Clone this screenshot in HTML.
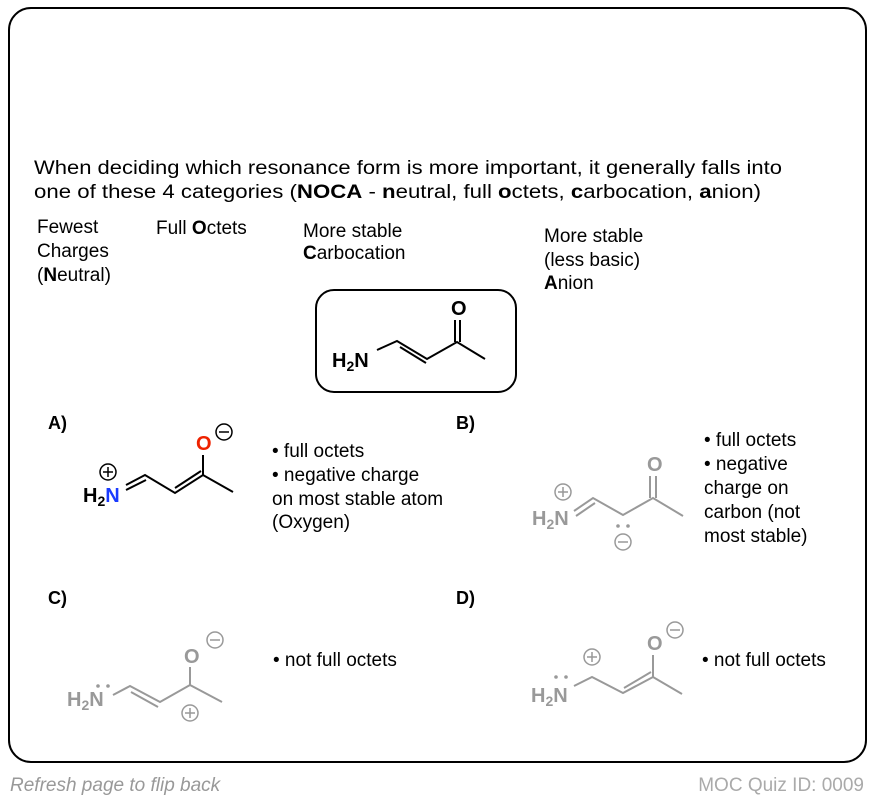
<!DOCTYPE html>
<html><head><meta charset="utf-8"><style>
html,body{margin:0;padding:0;background:#fff;}
svg{display:block;font-family:"Liberation Sans",Arial,sans-serif;}
</style></head><body>
<svg width="874" height="802" viewBox="0 0 874 802" xmlns="http://www.w3.org/2000/svg">
<rect x="9" y="8" width="857" height="754" rx="22" fill="#fff" stroke="#000" stroke-width="2"/>
<g font-size="19" fill="#000">
<text x="34" y="174" textLength="748" lengthAdjust="spacingAndGlyphs">When deciding which resonance form is more important, it generally falls into</text>
<text x="34" y="198" textLength="727" lengthAdjust="spacingAndGlyphs">one of these 4 categories (<tspan font-weight="bold">NOCA</tspan> - <tspan font-weight="bold">n</tspan>eutral, full <tspan font-weight="bold">o</tspan>ctets, <tspan font-weight="bold">c</tspan>arbocation, <tspan font-weight="bold">a</tspan>nion)</text>
<text x="37" y="233">Fewest</text>
<text x="37" y="257">Charges</text>
<text x="37" y="281">(<tspan font-weight="bold">N</tspan>eutral)</text>
<text x="156" y="234">Full <tspan font-weight="bold">O</tspan>ctets</text>
<text x="303" y="237">More stable</text>
<text x="303" y="259"><tspan font-weight="bold">C</tspan>arbocation</text>
<text x="544" y="242">More stable</text>
<text x="544" y="266">(less basic)</text>
<text x="544" y="289"><tspan font-weight="bold">A</tspan>nion</text>
</g>
<rect x="316" y="290" width="200" height="102" rx="18" fill="none" stroke="#000" stroke-width="2"/>
<g stroke="#000" stroke-width="2" fill="none">
<path d="M377 350 L397 341 L427 359 L457 342 L485 359"/>
<path d="M400 347 L426 363"/>
<path d="M455 342 L455 320 M460 342 L460 320"/>
</g>
<g font-weight="bold" font-size="20">
<text x="332" y="367">H<tspan font-size="14" dy="4">2</tspan><tspan dy="-4">N</tspan></text>
<text x="451" y="315">O</text>
</g>
<text x="48" y="429" font-size="18" font-weight="bold">A)</text>
<g stroke="#000" stroke-width="2" fill="none">
<path d="M126 485 L145 475 L175 493 L203 475 L233 492"/>
<path d="M126 490 L146 480"/>
<path d="M175 488 L201 471"/>
<path d="M203 475 L203 455"/>
<circle cx="108" cy="472" r="8" stroke-width="1.5"/><path d="M103 472 H113 M108 467 V477" stroke-width="1.5"/>
<circle cx="224" cy="432" r="8" stroke-width="1.5"/><path d="M219 432 H229" stroke-width="1.5"/>
</g>
<g font-weight="bold" font-size="20">
<text x="83" y="502">H<tspan font-size="14" dy="4">2</tspan><tspan dy="-4" fill="#1a3bff">N</tspan></text>
<text x="196" y="450" fill="#ee2200">O</text>
</g>
<g font-size="19">
<text x="272" y="457">• full octets</text>
<text x="272" y="481">• negative charge</text>
<text x="272" y="505">on most stable atom</text>
<text x="272" y="528">(Oxygen)</text>
</g>
<text x="456" y="429" font-size="18" font-weight="bold">B)</text>
<g stroke="#999" stroke-width="2" fill="none">
<path d="M574 511 L593 498 L623 515 L653 498 L683 516"/>
<path d="M576 516 L595 503"/>
<path d="M650 498 L650 476 M656 498 L656 476"/>
<circle cx="563" cy="492" r="8" stroke-width="1.5"/><path d="M558 492 H568 M563 487 V497" stroke-width="1.5"/>
<circle cx="623" cy="542" r="8" stroke-width="1.5"/><path d="M618 542 H628" stroke-width="1.5"/>
</g>
<circle cx="618" cy="526" r="1.8" fill="#999"/><circle cx="628" cy="526" r="1.8" fill="#999"/>
<g font-weight="bold" font-size="20" fill="#999">
<text x="532" y="525">H<tspan font-size="14" dy="4">2</tspan><tspan dy="-4">N</tspan></text>
<text x="647" y="471">O</text>
</g>
<g font-size="19">
<text x="704" y="446">• full octets</text>
<text x="704" y="470">• negative</text>
<text x="704" y="494">charge on</text>
<text x="704" y="518">carbon (not</text>
<text x="704" y="542">most stable)</text>
</g>
<text x="48" y="604" font-size="18" font-weight="bold">C)</text>
<g stroke="#999" stroke-width="2" fill="none">
<path d="M113 695 L130 686 L160 702 L190 685 L222 702"/>
<path d="M131 692 L158 707"/>
<path d="M190 685 L190 667"/>
<circle cx="215" cy="640" r="8" stroke-width="1.5"/><path d="M210 640 H220" stroke-width="1.5"/>
<circle cx="190" cy="713" r="8" stroke-width="1.5"/><path d="M185 713 H195 M190 708 V718" stroke-width="1.5"/>
</g>
<circle cx="98" cy="686" r="1.8" fill="#999"/><circle cx="108" cy="686" r="1.8" fill="#999"/>
<g font-weight="bold" font-size="20" fill="#999">
<text x="67" y="706">H<tspan font-size="14" dy="4">2</tspan><tspan dy="-4">N</tspan></text>
<text x="184" y="663">O</text>
</g>
<text x="273" y="666" font-size="19">• not full octets</text>
<text x="456" y="604" font-size="18" font-weight="bold">D)</text>
<g stroke="#999" stroke-width="2" fill="none">
<path d="M574 686 L592 677 L623 693 L653 677 L682 694"/>
<path d="M624 688 L651 672"/>
<path d="M653 677 L653 655"/>
<circle cx="592" cy="657" r="8" stroke-width="1.5"/><path d="M587 657 H597 M592 652 V662" stroke-width="1.5"/>
<circle cx="675" cy="630" r="8" stroke-width="1.5"/><path d="M670 630 H680" stroke-width="1.5"/>
</g>
<circle cx="556" cy="677" r="1.8" fill="#999"/><circle cx="566" cy="677" r="1.8" fill="#999"/>
<g font-weight="bold" font-size="20" fill="#999">
<text x="531" y="702">H<tspan font-size="14" dy="4">2</tspan><tspan dy="-4">N</tspan></text>
<text x="647" y="650">O</text>
</g>
<text x="702" y="666" font-size="19">• not full octets</text>
<text x="10" y="791" font-size="19" font-style="italic" fill="#999">Refresh page to flip back</text>
<text x="864" y="791" font-size="19" fill="#aaa" text-anchor="end">MOC Quiz ID: 0009</text>
</svg>
</body></html>
